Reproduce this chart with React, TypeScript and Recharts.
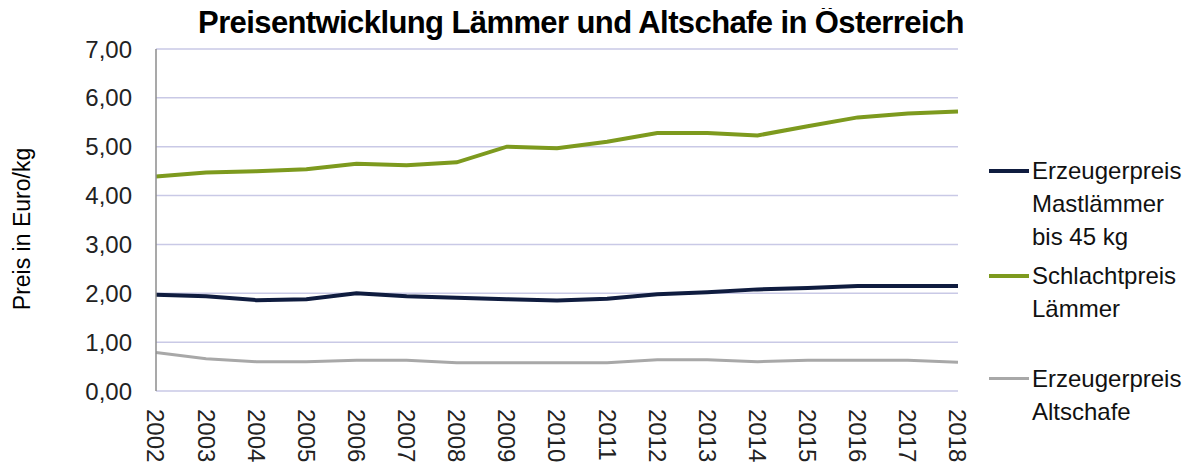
import { LineChart, Line, XAxis, YAxis, CartesianGrid } from "recharts";

const years = [
  "2002", "2003", "2004", "2005", "2006", "2007", "2008", "2009", "2010",
  "2011", "2012", "2013", "2014", "2015", "2016", "2017", "2018",
];
const mastlaemmer = [1.97, 1.94, 1.86, 1.88, 2.0, 1.94, 1.91, 1.88, 1.85, 1.89, 1.98, 2.02, 2.08, 2.11, 2.15, 2.15, 2.15];
const schlachtpreis = [4.39, 4.47, 4.5, 4.54, 4.65, 4.62, 4.68, 5.0, 4.97, 5.1, 5.28, 5.28, 5.23, 5.42, 5.6, 5.68, 5.72];
const altschafe = [0.79, 0.66, 0.6, 0.6, 0.63, 0.63, 0.58, 0.58, 0.58, 0.58, 0.64, 0.64, 0.6, 0.63, 0.63, 0.63, 0.59];
const yTicks = [0, 1, 2, 3, 4, 5, 6, 7];

const series = [
  { key: "mast", lines: ["Erzeugerpreis", "Mastlämmer", "bis 45 kg"], color: "#0f1c3f", width: 4, gap: 0 },
  { key: "schlacht", lines: ["Schlachtpreis", "Lämmer"], color: "#7d9a1e", width: 4, gap: 6 },
  { key: "alt", lines: ["Erzeugerpreis", "Altschafe"], color: "#a8a8a8", width: 3, gap: 37 },
];

const chartData = years.map((y, i) => ({
  year: y,
  mast: mastlaemmer[i],
  schlacht: schlachtpreis[i],
  alt: altschafe[i],
}));

const FONT = "'Liberation Sans', Arial, sans-serif";

const YearTick = (props: any) => {
  const { x, y, payload } = props;
  return (
    <text
      x={x}
      y={y + 16}
      transform={`rotate(90, ${x}, ${y + 16})`}
      dy="0.36em"
      textAnchor="start"
      fontSize={24}
      fontFamily={FONT}
      fill="#222"
    >
      {payload.value}
    </text>
  );
};

const App = () => {
  return (
    <div style={{ position: "relative", width: 1184, height: 466, fontFamily: FONT }}>
      <div
        style={{
          position: "absolute",
          left: 0,
          width: 1146,
          top: -3,
          textAlign: "center",
          fontSize: 31,
          fontWeight: "bold",
          letterSpacing: -0.6,
          color: "#000",
          lineHeight: "36px",
        }}
      >
        Preisentwicklung Lämmer und Altschafe in Österreich
      </div>
      <div
        style={{
          position: "absolute",
          left: 14,
          top: 221,
          width: 0,
          height: 0,
        }}
      >
        <div
          style={{
            position: "absolute",
            transform: "translate(-50%, -50%) rotate(-90deg)",
            whiteSpace: "nowrap",
            fontSize: 23,
            color: "#000",
            left: 0,
          }}
        >
          Preis in Euro/kg
        </div>
      </div>
      <LineChart
        width={1184}
        height={466}
        data={chartData}
        margin={{ top: 41, right: 234, bottom: 0, left: 0 }}
      >
        <CartesianGrid vertical={false} stroke="#c9c9e6" strokeWidth={1.5} />
        <XAxis
          dataKey="year"
          height={83}
          axisLine={false}
          tickLine={false}
          tickSize={0}
          interval={0}
          tick={<YearTick />}
        />
        <YAxis
          width={148}
          domain={[0, 7]}
          ticks={yTicks}
          interval={0}
          tickFormatter={(v: number) => v.toFixed(2).replace(".", ",")}
          tickLine={false}
          tickSize={0}
          tickMargin={24}
          axisLine={{ stroke: "#8c8c8c", strokeWidth: 1.5 }}
          tick={{ fontSize: 24, fill: "#222", fontFamily: FONT }}
        />
        {series.map((s) => (
          <Line
            key={s.key}
            dataKey={s.key}
            stroke={s.color}
            strokeWidth={s.width}
            dot={false}
            type="linear"
            isAnimationActive={false}
          />
        ))}
      </LineChart>
      <div style={{ position: "absolute", left: 981, top: 146 }}>
        {series.map((s) => (
          <div key={s.key} style={{ display: "flex", alignItems: "flex-start", marginTop: s.gap }}>
            <div style={{ width: 40, height: 33, position: "relative", marginRight: 3 }}>
              <div
                style={{
                  position: "absolute",
                  top: 15,
                  left: 0,
                  width: 40,
                  height: s.width,
                  background: s.color,
                }}
              />
            </div>
            <div style={{ fontSize: 24, lineHeight: "33px", color: "#111" }}>
              {s.lines.map((l) => (
                <div key={l}>{l}</div>
              ))}
            </div>
          </div>
        ))}
      </div>
    </div>
  );
};

export default App;
